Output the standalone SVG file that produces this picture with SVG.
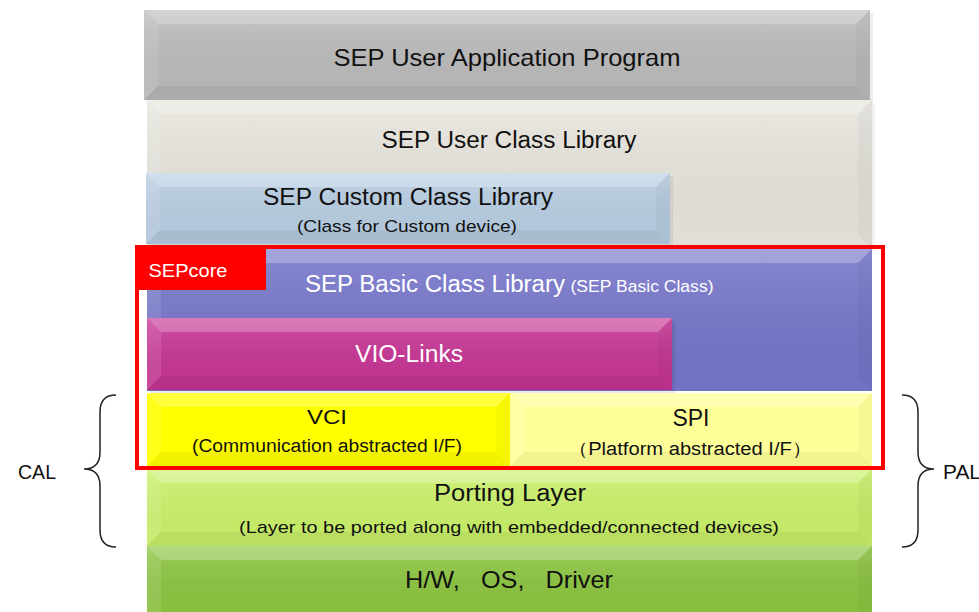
<svg xmlns="http://www.w3.org/2000/svg" width="979" height="612" viewBox="0 0 979 612">
<defs>
<linearGradient id="sh" x1="0" y1="0" x2="0" y2="1">
<stop offset="0" stop-color="#fff" stop-opacity="0.14"/>
<stop offset="1" stop-color="#000" stop-opacity="0.03"/>
</linearGradient>
</defs>
<style>
text{font-family:"Liberation Sans",Arial,sans-serif;text-anchor:middle;fill:#111}
.w{fill:#fff}
.bt{fill:#fff;fill-opacity:0.24}
.bl{fill:#fff;fill-opacity:0.1}
.br{fill:#000;fill-opacity:0.03}
.bb{fill:#000;fill-opacity:0.05}
.ov{fill:url(#sh)}
.brace{fill:none;stroke:#222;stroke-width:1.5}
</style>
<rect width="979" height="612" fill="#fff"/>

<g id="app">
<rect x="147" y="13" width="726" height="90" fill="#000" fill-opacity="0.07"/>
<rect x="144" y="10" width="726" height="90" fill="#bcbcbc"/>
<rect x="144" y="10" width="726" height="90" class="ov"/>
<polygon class="bt" points="144,10 870,10 856,24 158,24"/>
<polygon class="bl" points="144,10 158,24 158,86 144,100"/>
<polygon class="br" points="870,10 870,100 856,86 856,24"/>
<polygon class="bb" points="144,100 870,100 856,86 158,86"/>
<text x="507" y="66" font-size="24" textLength="347" lengthAdjust="spacingAndGlyphs">SEP User Application Program</text>
</g>

<g id="userclass">
<rect x="150" y="103" width="725" height="148" fill="#000" fill-opacity="0.05"/>
<rect x="147" y="100" width="725" height="148" fill="#e8e6de"/>
<rect x="147" y="100" width="725" height="148" class="ov"/>
<polygon class="bt" points="147,100 872,100 858,114 161,114"/>
<polygon class="bl" points="147,100 161,114 161,234 147,248"/>
<polygon class="br" points="872,100 872,248 858,234 858,114"/>
<text x="509" y="148" font-size="23" textLength="255" lengthAdjust="spacingAndGlyphs">SEP User Class Library</text>
</g>

<g id="customclass">
<rect x="149" y="176" width="524" height="71" fill="#000" fill-opacity="0.06"/>
<rect x="146" y="173" width="524" height="71" fill="#b9cfe4"/>
<rect x="146" y="173" width="524" height="71" class="ov"/>
<polygon class="bt" points="146,173 670,173 656,187 160,187"/>
<polygon class="bl" points="146,173 160,187 160,230 146,244"/>
<polygon class="br" points="670,173 670,244 656,230 656,187"/>
<polygon class="bb" points="146,244 670,244 656,230 160,230"/>
<text x="408" y="205" font-size="23" textLength="290" lengthAdjust="spacingAndGlyphs">SEP Custom Class Library</text>
<text x="407" y="232" font-size="17" textLength="220" lengthAdjust="spacingAndGlyphs">(Class for Custom device)</text>
</g>

<g id="basicclass">
<rect x="147" y="249" width="725" height="142" fill="#7676cc"/>
<rect x="147" y="249" width="725" height="142" class="ov"/>
<polygon class="bt" points="147,249 872,249 858,263 161,263"/>
<polygon class="bl" points="147,249 161,263 161,377 147,391"/>
<polygon class="br" points="872,249 872,391 858,377 858,263"/>
<text class="w" x="435" y="292" font-size="23" textLength="260" lengthAdjust="spacingAndGlyphs">SEP Basic Class Library</text>
<text class="w" x="642" y="292" font-size="16" textLength="143" lengthAdjust="spacingAndGlyphs">(SEP Basic Class)</text>
</g>

<g id="violinks">
<rect x="150" y="321" width="525" height="72" fill="#000" fill-opacity="0.08"/>
<rect x="147" y="318" width="525" height="72" fill="#c83595"/>
<rect x="147" y="318" width="525" height="72" class="ov"/>
<polygon class="bt" points="147,318 672,318 658,332 161,332"/>
<polygon class="bl" points="147,318 161,332 161,376 147,390"/>
<polygon class="br" points="672,318 672,390 658,376 658,332"/>
<polygon class="bb" points="147,390 672,390 658,376 161,376"/>
<text class="w" x="409" y="362" font-size="23" textLength="108" lengthAdjust="spacingAndGlyphs">VIO-Links</text>
</g>

<g id="vci">
<rect x="147" y="393" width="363" height="73" fill="#ffff00"/>
<polygon class="bt" points="147,393 510,393 496,407 161,407"/>
<polygon class="bl" points="147,393 161,407 161,452 147,466"/>
<polygon class="br" points="510,393 510,466 496,452 496,407"/>
<polygon class="bb" points="147,466 510,466 496,452 161,452"/>
<text x="327" y="424" font-size="21" textLength="40" lengthAdjust="spacingAndGlyphs">VCI</text>
<text x="327" y="452" font-size="18" textLength="270" lengthAdjust="spacingAndGlyphs">(Communication abstracted I/F)</text>
</g>

<g id="spi">
<rect x="510" y="393" width="362" height="73" fill="#ffff99"/>
<polygon class="bt" points="510,393 872,393 858,407 524,407"/>
<polygon class="bl" points="510,393 524,407 524,452 510,466"/>
<polygon class="br" points="872,393 872,466 858,452 858,407"/>
<polygon class="bb" points="510,466 872,466 858,452 524,452"/>
<text x="691" y="426" font-size="24" textLength="37" lengthAdjust="spacingAndGlyphs">SPI</text>
<text x="690" y="455" font-size="18" textLength="244" lengthAdjust="spacingAndGlyphs">（Platform abstracted I/F）</text>
</g>

<g id="porting">
<rect x="147" y="469" width="725" height="77" fill="#ccf36a"/>
<rect x="147" y="469" width="725" height="77" class="ov"/>
<polygon class="bt" points="147,469 872,469 858,483 161,483"/>
<polygon class="bl" points="147,469 161,483 161,532 147,546"/>
<polygon class="br" points="872,469 872,546 858,532 858,483"/>
<polygon class="bb" points="147,546 872,546 858,532 161,532"/>
<text x="510" y="501" font-size="23" textLength="152" lengthAdjust="spacingAndGlyphs">Porting Layer</text>
<text x="509" y="533" font-size="17" textLength="540" lengthAdjust="spacingAndGlyphs">(Layer to be ported along with embedded/connected devices)</text>
</g>

<g id="hw">
<rect x="147" y="546" width="725" height="70" fill="#8dc640"/>
<rect x="147" y="546" width="725" height="70" class="ov"/>
<polygon class="bt" points="147,546 872,546 858,560 161,560"/>
<polygon class="bl" points="147,546 161,560 161,612 147,612"/>
<polygon class="br" points="872,546 872,612 858,612 858,560"/>
<text x="509" y="588" font-size="24" textLength="208" lengthAdjust="spacingAndGlyphs">H/W,&#160;&#160;&#160;OS,&#160;&#160;&#160;Driver</text>
</g>

<g id="sepcore">
<rect x="137" y="247" width="746" height="221" fill="none" stroke="#ff0000" stroke-width="4"/>
<rect x="135" y="245" width="131" height="45" fill="#ff0000"/>
<text class="w" x="188" y="277" font-size="19" textLength="79" lengthAdjust="spacingAndGlyphs">SEPcore</text>
</g>

<g id="cal">
<path class="brace" d="M116,395 Q100,395 100,412 L100,452 Q100,469 84,469 Q100,469 100,486 L100,530 Q100,547 116,547"/>
<text x="37" y="479" font-size="20" textLength="38" lengthAdjust="spacingAndGlyphs">CAL</text>
</g>

<g id="pal">
<path class="brace" d="M902,395 Q918,395 918,412 L918,452 Q918,469 934,469 Q918,469 918,486 L918,530 Q918,547 902,547"/>
<text x="962" y="479" font-size="20" textLength="38" lengthAdjust="spacingAndGlyphs">PAL</text>
</g>

<g id="connectors"></g>
</svg>
